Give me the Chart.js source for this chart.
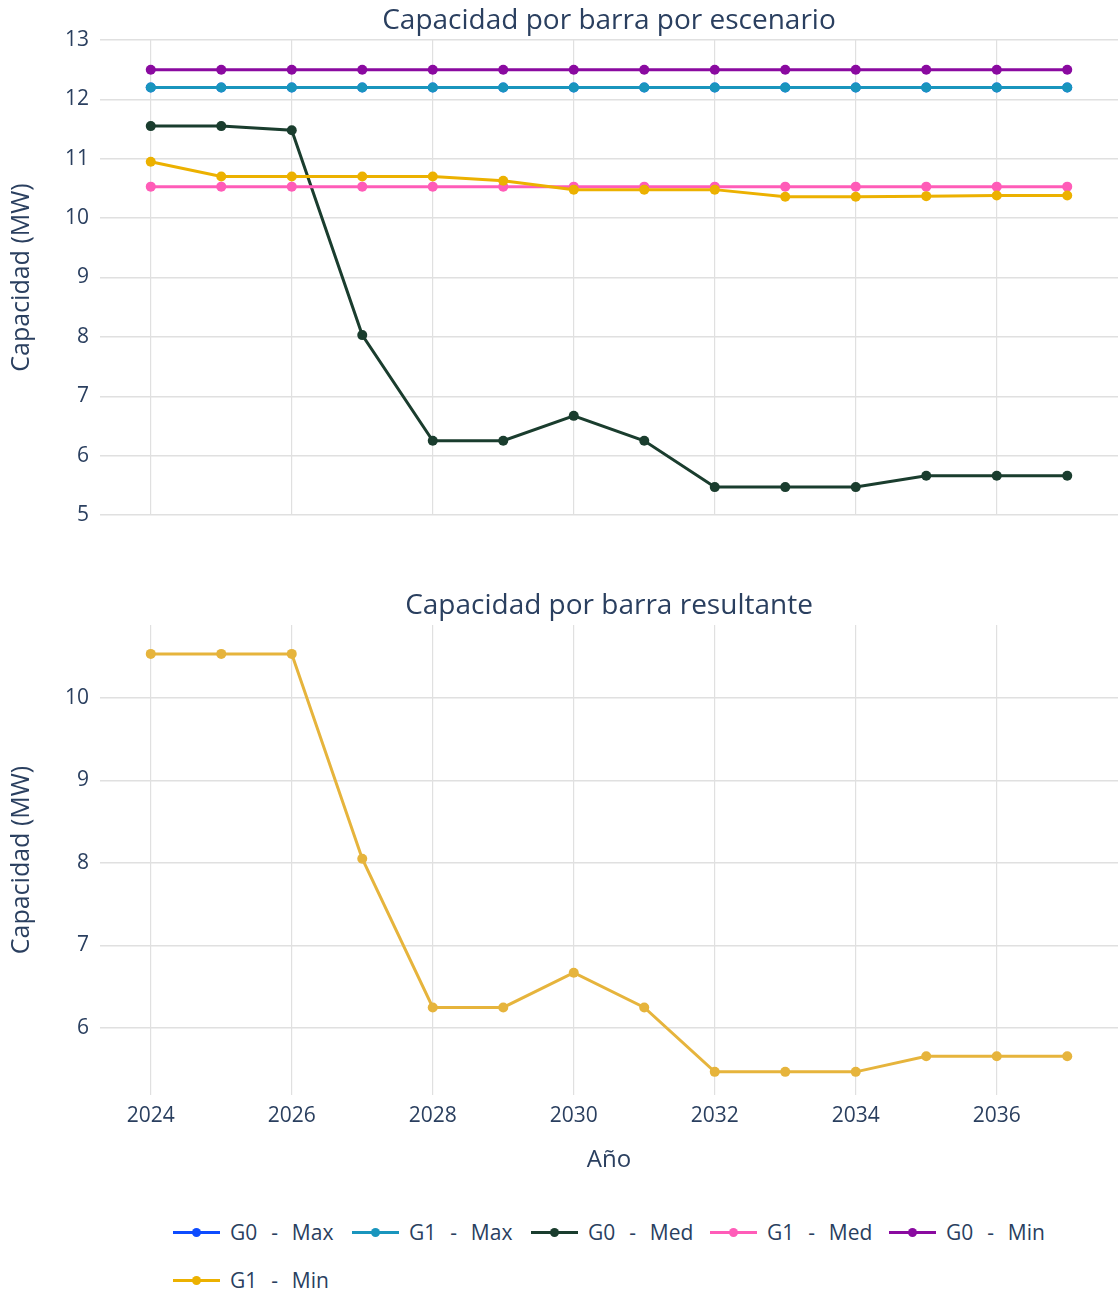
<!DOCTYPE html>
<html>
<head>
<meta charset="utf-8">
<script src="https://cdn.jsdelivr.net/npm/chart.js@4.4.1/dist/chart.umd.min.js"></script>
<style>
  html, body { margin: 0; padding: 0; background: #fff; }
  body { width: 1119px; height: 1293px; position: relative; overflow: hidden; font-family: "Open Sans", sans-serif; }
  #wrapTop { position: absolute; left: 0; top: 0; width: 1119px; height: 540px; }
  #wrapBot { position: absolute; left: 0; top: 560px; width: 1119px; height: 630px; }
  #legend { position: absolute; left: 173px; top: 1215px; width: 940px; }
  .item { position: absolute; height: 34px; display: flex; align-items: center; }
  .sample { position: relative; width: 47px; height: 34px; margin-right: 10px; }
  .sample .ln { position: absolute; left: 0; right: 0; top: 16px; height: 3px; }
  .sample .dot { position: absolute; left: 19px; top: 13px; width: 9px; height: 9px; border-radius: 50%; }
  .lbl { font-size: 21px; color: #2a3f5f; white-space: pre; word-spacing: 1.5px; }
</style>
</head>
<body>
<div id="wrapTop"><canvas id="top"></canvas></div>
<div id="wrapBot"><canvas id="bot"></canvas></div>
<div id="legend"></div>
<script>
const years = [2024, 2025, 2026, 2027, 2028, 2029, 2030, 2031, 2032, 2033, 2034, 2035, 2036, 2037];
const xTicks = [2024, 2026, 2028, 2030, 2032, 2034, 2036];
const yTicksTop = [5, 6, 7, 8, 9, 10, 11, 12, 13];
const yTicksBot = [6, 7, 8, 9, 10];

const seriesNames = ["G0  -  Max", "G1  -  Max", "G0  -  Med", "G1  -  Med", "G0  -  Min", "G1  -  Min"];
const seriesColors = ["#0d4cff", "#1995bd", "#1a3d2e", "#ff5cb8", "#8a0aa0", "#ecb100"];

const g0Max = [12.2, 12.2, 12.2, 12.2, 12.2, 12.2, 12.2, 12.2, 12.2, 12.2, 12.2, 12.2, 12.2, 12.2];
const g1Max = [12.2, 12.2, 12.2, 12.2, 12.2, 12.2, 12.2, 12.2, 12.2, 12.2, 12.2, 12.2, 12.2, 12.2];
const g0Med = [11.55, 11.55, 11.48, 8.03, 6.25, 6.25, 6.67, 6.25, 5.47, 5.47, 5.47, 5.66, 5.66, 5.66];
const g1Med = [10.53, 10.53, 10.53, 10.53, 10.53, 10.53, 10.53, 10.53, 10.53, 10.53, 10.53, 10.53, 10.53, 10.53];
const g0Min = [12.5, 12.5, 12.5, 12.5, 12.5, 12.5, 12.5, 12.5, 12.5, 12.5, 12.5, 12.5, 12.5, 12.5];
const g1Min = [10.95, 10.7, 10.7, 10.7, 10.7, 10.63, 10.48, 10.48, 10.48, 10.36, 10.36, 10.37, 10.38, 10.38];
const resultante = [10.53, 10.53, 10.53, 8.05, 6.25, 6.25, 6.67, 6.25, 5.47, 5.47, 5.47, 5.66, 5.66, 5.66];
const resultColor = "#e6b43c";

const topSeries = [g0Max, g1Max, g0Med, g1Med, g0Min, g1Min];

const TXT = "#2a3f5f";
const GRID = "#e0e0e0";
const FONT = "'Open Sans', sans-serif";

function pts(vals) { return years.map((y, i) => ({ x: y, y: vals[i] })); }

function lineDs(label, vals, color, order) {
  return {
    label, data: pts(vals), borderColor: color, backgroundColor: color,
    borderWidth: 3, pointRadius: 5, pointHoverRadius: 5,
    pointBorderWidth: 0, tension: 0, order
  };
}

function xScale(showLabels) {
  return {
    type: 'linear', min: 2023.28, max: 2037.72,
    afterBuildTicks: s => { s.ticks = xTicks.map(v => ({ value: v })); },
    afterFit: s => { s.height = showLabels ? 95 : 25; s.paddingLeft = 0; s.paddingRight = 0; },
    grid: { color: GRID, lineWidth: 1.2, drawTicks: false },
    border: { display: false },
    ticks: { display: showLabels, color: TXT, font: { family: FONT, size: 21 }, padding: 8, maxRotation: 0,
             callback: v => String(v) },
    title: { display: showLabels, text: 'Año', color: TXT, font: { family: FONT, size: 24 }, padding: { top: 4, bottom: 15 } }
  };
}

function yScale(min, max, ticks) {
  return {
    min, max,
    afterBuildTicks: s => { s.ticks = ticks.map(v => ({ value: v })); },
    afterFit: s => { s.width = 100; },
    grid: { color: GRID, lineWidth: 1.5, drawTicks: false },
    border: { display: false },
    ticks: { color: TXT, font: { family: FONT, size: 21 }, padding: 11, callback: v => String(v) },
    title: { display: true, text: 'Capacidad (MW)', color: TXT, font: { family: FONT, size: 25 }, padding: { top: 7, bottom: 0 } }
  };
}

new Chart(document.getElementById('top'), {
  type: 'line',
  data: { datasets: topSeries.map((v, i) => lineDs(seriesNames[i], v, seriesColors[i], topSeries.length - i)) },
  options: {
    responsive: true, maintainAspectRatio: false, animation: false,
    layout: { autoPadding: false, padding: { left: 0, right: 1, top: 0, bottom: 0 } },
    plugins: {
      legend: { display: false },
      tooltip: { enabled: false },
      title: { display: true, fullSize: false, text: 'Capacidad por barra por escenario', color: TXT,
               font: { family: FONT, size: 28, weight: 'normal' }, padding: { top: 4, bottom: 2.4 } }
    },
    scales: { x: xScale(false), y: yScale(5, 13, yTicksTop) }
  }
});

new Chart(document.getElementById('bot'), {
  type: 'line',
  data: { datasets: [lineDs('Resultante', resultante, resultColor, 0)] },
  options: {
    responsive: true, maintainAspectRatio: false, animation: false,
    layout: { autoPadding: false, padding: { left: 0, right: 1, top: 0, bottom: 0 } },
    plugins: {
      legend: { display: false },
      tooltip: { enabled: false },
      title: { display: true, fullSize: false, text: 'Capacidad por barra resultante', color: TXT,
               font: { family: FONT, size: 28, weight: 'normal' }, padding: { top: 29, bottom: 2.4 } }
    },
    scales: { x: xScale(true), y: yScale(5.19, 10.88, yTicksBot) }
  }
});

// HTML legend built from series names/colours
const legend = document.getElementById('legend');
const rowH = 48, colW = 179, perRow = 5;
seriesNames.forEach((name, i) => {
  const it = document.createElement('div');
  it.className = 'item';
  it.style.left = ((i % perRow) * colW) + 'px';
  it.style.top = (Math.floor(i / perRow) * rowH) + 'px';
  it.innerHTML = '<div class="sample"><div class="ln" style="background:' + seriesColors[i] +
    '"></div><div class="dot" style="background:' + seriesColors[i] + '"></div></div><span class="lbl"></span>';
  it.querySelector('.lbl').textContent = name;
  legend.appendChild(it);
});
</script>
</body>
</html>
